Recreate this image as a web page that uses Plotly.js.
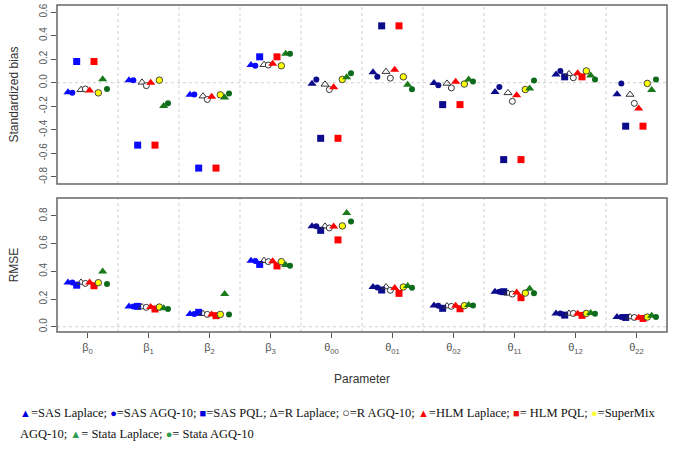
<!DOCTYPE html>
<html>
<head>
<meta charset="utf-8">
<script src="https://cdn.plot.ly/plotly-3.0.1.min.js"></script>
<style>html,body{margin:0;padding:0;background:#fff;}#chart{width:677px;height:452px;}</style>
</head>
<body>
<div id="chart"></div>
<script>
// Parameters (categories) and tick labels
const params = ['β0','β1','β2','β3','θ00','θ01','θ02','θ11','θ12','θ22'];
const tickLabels = ['β<sub>0</sub>','β<sub>1</sub>','β<sub>2</sub>','β<sub>3</sub>','θ<sub>00</sub>','θ<sub>01</sub>','θ<sub>02</sub>','θ<sub>11</sub>','θ<sub>12</sub>','θ<sub>22</sub>'];
const seriesNames = ['SAS Laplace','SAS AGQ-10','SAS PQL','R Laplace','R AGQ-10','HLM Laplace','HLM PQL','SuperMix AGQ-10','Stata Laplace','Stata AGQ-10'];

// Standardized bias
const biasSASLaplace = [-0.080, 0.022, -0.103, 0.150, -0.008, 0.089, -0.003, -0.078, 0.069, -0.097];
const biasSASAGQ     = [-0.086, 0.022, -0.100, 0.144, 0.028, 0.050, -0.022, -0.036, 0.100, -0.006];
const biasSASPQL     = [0.180, -0.530, -0.725, 0.220, -0.472, 0.483, -0.186, -0.653, 0.050, -0.369];
const biasRLaplace   = [-0.060, 0.003, -0.114, 0.153, -0.014, 0.094, -0.006, -0.086, 0.075, -0.100];
const biasRAGQ       = [-0.053, -0.025, -0.142, 0.150, -0.058, 0.039, -0.044, -0.158, 0.042, -0.175];
const biasHLMLaplace = [-0.065, 0.000, -0.120, 0.161, -0.039, 0.111, 0.008, -0.106, 0.080, -0.219];
const biasHLMPQL     = [0.180, -0.530, -0.725, 0.220, -0.472, 0.483, -0.186, -0.653, 0.050, -0.369];
const biasSuperMix   = [-0.086, 0.022, -0.103, 0.144, 0.028, 0.050, -0.011, -0.058, 0.100, -0.006];
const biasStataLaplace = [0.030, -0.197, -0.125, 0.247, 0.047, -0.017, 0.028, -0.050, 0.061, -0.061];
const biasStataAGQ   = [-0.053, -0.175, -0.092, 0.247, 0.080, -0.056, 0.011, 0.019, 0.028, 0.028];

// RMSE
const rmseSASLaplace = [0.320, 0.147, 0.092, 0.477, 0.725, 0.287, 0.154, 0.253, 0.096, 0.070];
const rmseSASAGQ     = [0.320, 0.147, 0.092, 0.475, 0.725, 0.284, 0.152, 0.253, 0.096, 0.070];
const rmseSASPQL     = [0.300, 0.147, 0.104, 0.450, 0.696, 0.265, 0.133, 0.253, 0.084, 0.067];
const rmseRLaplace   = [0.320, 0.142, 0.094, 0.477, 0.725, 0.287, 0.149, 0.241, 0.096, 0.070];
const rmseRAGQ       = [0.313, 0.140, 0.089, 0.470, 0.713, 0.263, 0.147, 0.236, 0.096, 0.067];
const rmseHLMLaplace = [0.320, 0.142, 0.089, 0.472, 0.723, 0.280, 0.152, 0.248, 0.094, 0.065];
const rmseHLMPQL     = [0.296, 0.128, 0.080, 0.439, 0.627, 0.241, 0.130, 0.210, 0.082, 0.060];
const rmseSuperMix   = [0.318, 0.142, 0.089, 0.470, 0.728, 0.287, 0.152, 0.243, 0.096, 0.070];
const rmseStataLaplace = [0.398, 0.133, 0.236, 0.446, 0.822, 0.294, 0.157, 0.275, 0.099, 0.080];
const rmseStataAGQ   = [0.308, 0.128, 0.089, 0.441, 0.759, 0.282, 0.154, 0.241, 0.094, 0.070];

const yTickVals1 = [-0.8,-0.6,-0.4,-0.2,0.0,0.2,0.4,0.6];
const yTickText1 = ['-0.8','-0.6','-0.4','-0.2','0.0','0.2','0.4','0.6'];
const yTickVals2 = [0.0,0.2,0.4,0.6,0.8];
const yTickText2 = ['0.0','0.2','0.4','0.6','0.8'];

const biasAll = [biasSASLaplace,biasSASAGQ,biasSASPQL,biasRLaplace,biasRAGQ,biasHLMLaplace,biasHLMPQL,biasSuperMix,biasStataLaplace,biasStataAGQ];
const rmseAll = [rmseSASLaplace,rmseSASAGQ,rmseSASPQL,rmseRLaplace,rmseRAGQ,rmseHLMLaplace,rmseHLMPQL,rmseSuperMix,rmseStataLaplace,rmseStataAGQ];

// styles
const BLUE = '#0a0aff', NAVY = '#0b0b8c';
const styles = [
  {symbol:'triangle-up', size:8, sas:true},
  {symbol:'circle', size:6, sas:true},
  {symbol:'square', size:7, sas:true},
  {symbol:'triangle-up-open', size:7, color:'#333', lw:1},
  {symbol:'circle', size:6, color:'#ffffff', line:'#333', lw:1},
  {symbol:'triangle-up', size:8, color:'#ff0000'},
  {symbol:'square', size:7, color:'#ff0000'},
  {symbol:'circle', size:6.5, color:'#ffff00', line:'#444', lw:1},
  {symbol:'triangle-up', size:8, color:'#1a7a1a'},
  {symbol:'circle', size:6, color:'#0b6b1b'}
];

const step = 0.071;
const xBase = params.map((p,i)=>i+1);
const traces = [];
[biasAll, rmseAll].forEach((dataset, panel) => {
  dataset.forEach((vals, s) => {
    const st = styles[s];
    const color = st.sas ? params.map((p,i)=> i<4 ? BLUE : NAVY) : (st.color);
    traces.push({
      type:'scatter', mode:'markers',
      name: seriesNames[s],
      x: xBase.map(x => x + (s-4.5)*step),
      y: vals,
      xaxis:'x', yaxis: panel===0 ? 'y2' : 'y',
      showlegend:false,
      marker:{symbol:st.symbol, size:st.size, color:color,
        line:{color: st.line || (st.symbol.indexOf('open')>=0 ? st.color : 'rgba(0,0,0,0)'), width: st.lw || 0}},
      hoverinfo:'skip'
    });
  });
});

const shapes = [];
const frameColor = '#666';
const dashStyle = '3px,3px';
['y domain','y2 domain'].forEach(yr => {
  shapes.push({type:'rect', xref:'x domain', yref:yr, x0:0, x1:1, y0:0, y1:1, line:{color:frameColor, width:1.5}, layer:'above'});
  for (let k=1;k<params.length;k++){
    shapes.push({type:'line', xref:'x', yref:yr, x0:k+0.5, x1:k+0.5, y0:0, y1:1, line:{color:'#cfcfcf', width:1, dash:dashStyle}, layer:'below'});
  }
});
shapes.push({type:'line', xref:'x domain', yref:'y', x0:0, x1:1, y0:0, y1:0, line:{color:'#cfcfcf', width:1, dash:dashStyle}, layer:'below'});
shapes.push({type:'line', xref:'x domain', yref:'y2', x0:0, x1:1, y0:0, y1:0, line:{color:'#cfcfcf', width:1, dash:dashStyle}, layer:'below'});

const sp = c => '<span style="color:'+c+';font-size:11px">';
const legend1 = sp('#0000dd')+'▲</span>=SAS Laplace; '+sp('#0000dd')+'●</span>=SAS AGQ-10; '+sp('#0000dd')+'■</span>=SAS PQL; Δ=R Laplace; ○=R AGQ-10; '+sp('#ff0000')+'▲</span>=HLM Laplace; '+sp('#ee1111')+'■</span>= HLM PQL; '+sp('#ffff33')+'●</span>=SuperMix';
const legend2 = 'AGQ-10; '+sp('#2e9a4e')+'▲</span>= Stata Laplace; '+sp('#2e9a4e')+'●</span>= Stata AGQ-10';

const axFont = {family:'Liberation Sans, Arial, sans-serif', size:10, color:'#555'};
const layout = {
  width:677, height:452,
  margin:{l:57, r:10, t:5, b:120},
  paper_bgcolor:'#fff', plot_bgcolor:'#fff',
  showlegend:false,
  xaxis:{
    range:[0.5,10.5], anchor:'y', tickmode:'array', tickvals:xBase, ticktext:tickLabels,
    ticks:'outside', ticklen:5, tickcolor:'#555', showgrid:false, zeroline:false, showline:false,
    tickfont:{family:'Liberation Sans, Arial, sans-serif', size:11, color:'#555'},
    title:{text:'Parameter', font:{family:'Liberation Sans, Arial, sans-serif', size:12, color:'#333'}, standoff:20}
  },
  yaxis:{
    domain:[0,0.41], range:[-0.038,0.93], anchor:'x',
    tickmode:'array', tickvals:yTickVals2, ticktext:yTickText2, tickangle:-90,
    ticks:'outside', ticklen:5, tickcolor:'#555', showgrid:false, zeroline:false, showline:false,
    tickfont:axFont,
    title:{text:'RMSE', font:{family:'Liberation Sans, Arial, sans-serif', size:12, color:'#333'}, standoff:16}
  },
  yaxis2:{
    domain:[0.4526,1], range:[-0.86,0.66], anchor:'x',
    tickmode:'array', tickvals:yTickVals1, ticktext:yTickText1, tickangle:-90,
    ticks:'outside', ticklen:5, tickcolor:'#555', showgrid:false, zeroline:false, showline:false,
    tickfont:axFont,
    title:{text:'Standardized bias', font:{family:'Liberation Sans, Arial, sans-serif', size:12, color:'#333'}, standoff:16}
  },
  shapes:shapes,
  annotations:[
    {text:legend1, xref:'paper', yref:'paper', x:-0.064, y:-0.248, xanchor:'left', yanchor:'middle', showarrow:false,
     font:{family:'Liberation Serif, Times New Roman, serif', size:12.5, color:'#111'}},
    {text:legend2, xref:'paper', yref:'paper', x:-0.064, y:-0.312, xanchor:'left', yanchor:'middle', showarrow:false,
     font:{family:'Liberation Serif, Times New Roman, serif', size:12.5, color:'#111'}}
  ]
};

Plotly.newPlot('chart', traces, layout, {displayModeBar:false, staticPlot:true});
</script>
</body>
</html>
